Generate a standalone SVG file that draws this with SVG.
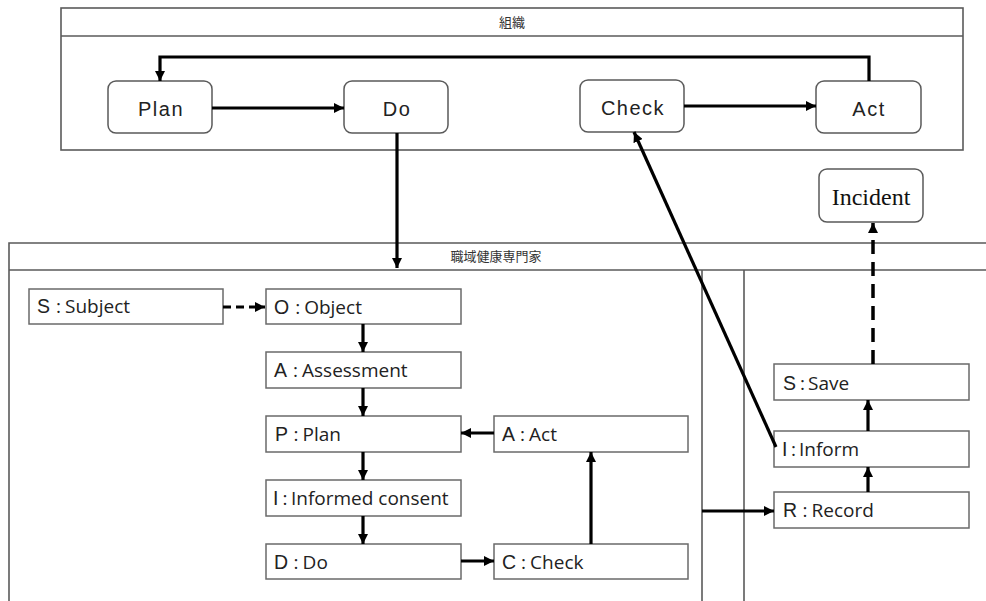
<svg xmlns="http://www.w3.org/2000/svg" width="986" height="601" viewBox="0 0 986 601">
<style>
.bg{fill:#ffffff}
.cont{fill:none;stroke:#5a5a5a;stroke-width:1.6}
.rbox{fill:#ffffff;stroke:#5a5a5a;stroke-width:1.5}
.sbox{fill:#ffffff;stroke:#6a6a6a;stroke-width:1.5}
.ttl{font-family:"Noto Sans CJK JP","Noto Sans CJK SC",sans-serif;font-size:13px;fill:#333;text-anchor:middle}
.top{font-family:"Liberation Sans",Arial,sans-serif;font-size:20px;fill:#222;text-anchor:middle;letter-spacing:1.5px}
.lbl{font-family:"Open Sans","Noto Sans",sans-serif;font-size:19px;fill:#222}
.ltr{font-family:"Liberation Sans",Arial,sans-serif;font-size:19.5px}
.inc{font-family:"Liberation Serif","Times New Roman",serif;font-size:24px;fill:#111;text-anchor:middle}
.edge{fill:none;stroke:#000;stroke-width:3.2}
.dash1{stroke-dasharray:8 5}
.dash2{stroke-dasharray:14 8;stroke-width:3.5}
</style>
<defs>
<marker id="ah" markerUnits="userSpaceOnUse" viewBox="0 0 10 10" refX="10" refY="5" markerWidth="10" markerHeight="10" orient="auto">
<path d="M0,0 L10,5 L0,10 z" fill="#000"/>
</marker>
</defs>
<rect class="bg" x="0" y="0" width="986" height="601"/>

<g id="org">
<rect class="cont" x="61" y="8" width="902" height="142"/>
<line class="cont" x1="61" y1="36" x2="963" y2="36"/>
<text class="ttl" x="512" y="27">組織</text>
</g>

<g id="pro">
<polyline class="cont" points="9,601 9,243 990,243"/>
<line class="cont" x1="9" y1="270" x2="990" y2="270"/>
<line class="cont" x1="702" y1="270" x2="702" y2="601"/>
<line class="cont" x1="744" y1="270" x2="744" y2="601"/>
<text class="ttl" x="496" y="261">職域健康専門家</text>
</g>

<g id="plan">
<rect class="rbox" x="108" y="81" width="104" height="52" rx="8"/>
<text class="top" x="161" y="116">Plan</text>
</g>
<g id="do">
<rect class="rbox" x="344" y="81" width="104" height="52" rx="8"/>
<text class="top" x="397" y="116">Do</text>
</g>
<g id="check">
<rect class="rbox" x="580" y="80" width="104" height="52" rx="8"/>
<text class="top" x="633" y="115">Check</text>
</g>
<g id="act">
<rect class="rbox" x="816" y="81" width="105" height="52" rx="8"/>
<text class="top" x="869" y="116">Act</text>
</g>
<g id="incident">
<rect class="rbox" x="819" y="169" width="104" height="53" rx="8"/>
<text class="inc" x="871" y="205">Incident</text>
</g>

<g id="s-subject">
<rect class="sbox" x="29" y="289" width="194" height="35"/>
<text class="lbl" x="37" y="313"><tspan class="ltr">S</tspan><tspan dx="6">:</tspan><tspan dx="4">Subject</tspan></text>
</g>
<g id="o-object">
<rect class="sbox" x="266" y="289" width="195" height="35"/>
<text class="lbl" x="274" y="313.5"><tspan class="ltr">O</tspan><tspan dx="6">:</tspan><tspan dx="4">Object</tspan></text>
</g>
<g id="a-assessment">
<rect class="sbox" x="266" y="352" width="195" height="36"/>
<text class="lbl" x="274" y="377"><tspan class="ltr">A</tspan><tspan dx="6">:</tspan><tspan dx="4">Assessment</tspan></text>
</g>
<g id="p-plan">
<rect class="sbox" x="266" y="416" width="195" height="36"/>
<text class="lbl" x="275" y="441"><tspan class="ltr">P</tspan><tspan dx="5.5">:</tspan><tspan dx="4">Plan</tspan></text>
</g>
<g id="i-informed">
<rect class="sbox" x="266" y="480" width="195" height="36"/>
<text class="lbl" x="273" y="505"><tspan class="ltr">I</tspan><tspan dx="4">:</tspan><tspan dx="3.5">Informed consent</tspan></text>
</g>
<g id="d-do">
<rect class="sbox" x="266" y="544" width="195" height="35"/>
<text class="lbl" x="274" y="569"><tspan class="ltr">D</tspan><tspan dx="5.5">:</tspan><tspan dx="4">Do</tspan></text>
</g>
<g id="a-act">
<rect class="sbox" x="494" y="416" width="194" height="36"/>
<text class="lbl" x="502" y="441"><tspan class="ltr">A</tspan><tspan dx="5">:</tspan><tspan dx="4">Act</tspan></text>
</g>
<g id="c-check">
<rect class="sbox" x="494" y="544" width="194" height="35"/>
<text class="lbl" x="502" y="569"><tspan class="ltr">C</tspan><tspan dx="5">:</tspan><tspan dx="4">Check</tspan></text>
</g>
<g id="s-save">
<rect class="sbox" x="774" y="364" width="195" height="36"/>
<text class="lbl" x="783" y="390"><tspan class="ltr">S</tspan><tspan dx="4">:</tspan><tspan dx="3">Save</tspan></text>
</g>
<g id="i-inform">
<rect class="sbox" x="774" y="431" width="195" height="36"/>
<text class="lbl" x="782" y="456"><tspan class="ltr">I</tspan><tspan dx="3.5">:</tspan><tspan dx="3">Inform</tspan></text>
</g>
<g id="r-record">
<rect class="sbox" x="774" y="492" width="195" height="36"/>
<text class="lbl" x="783" y="517"><tspan class="ltr">R</tspan><tspan dx="5.5">:</tspan><tspan dx="4">Record</tspan></text>
</g>

<g id="connectors">
<path class="edge" d="M212,108 H344" marker-end="url(#ah)"/>
<path class="edge" d="M684,106 H816" marker-end="url(#ah)"/>
<path class="edge" d="M869,81 V57 H160 V81" marker-end="url(#ah)"/>
<path class="edge" d="M397,133 V268" marker-end="url(#ah)"/>
<path class="edge" d="M776,447 L634,132" marker-end="url(#ah)"/>
<path class="edge dash1" d="M223,307 H265" marker-end="url(#ah)"/>
<path class="edge" d="M363,324 V352" marker-end="url(#ah)"/>
<path class="edge" d="M363,388 V416" marker-end="url(#ah)"/>
<path class="edge" d="M363,452 V480" marker-end="url(#ah)"/>
<path class="edge" d="M363,516 V544" marker-end="url(#ah)"/>
<path class="edge" d="M494,433 H461" marker-end="url(#ah)"/>
<path class="edge" d="M461,561 H494" marker-end="url(#ah)"/>
<path class="edge" d="M591,544 V452" marker-end="url(#ah)"/>
<path class="edge" d="M702,511 H774" marker-end="url(#ah)"/>
<path class="edge" d="M868,492 V467" marker-end="url(#ah)"/>
<path class="edge" d="M868,431 V400" marker-end="url(#ah)"/>
<path class="edge dash2" d="M873,364 V223" marker-end="url(#ah)"/>
</g>
</svg>
